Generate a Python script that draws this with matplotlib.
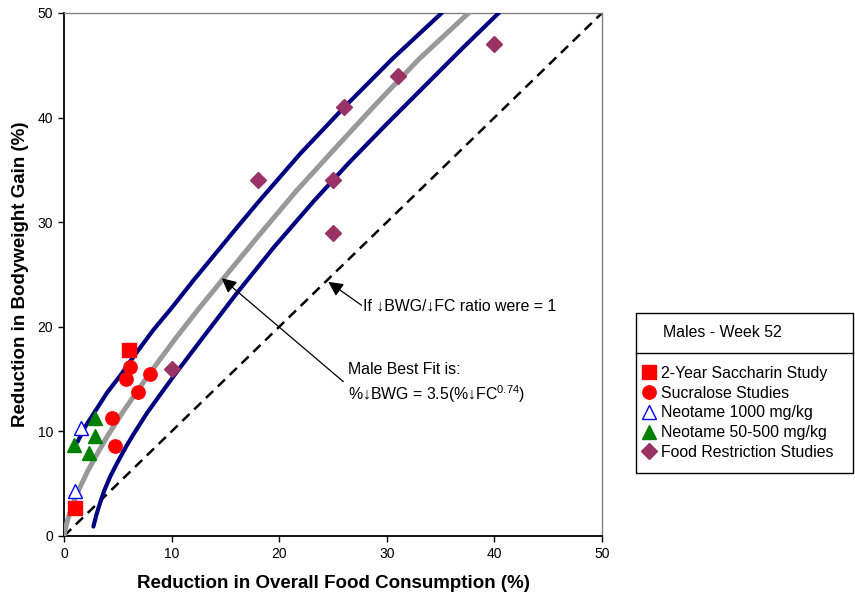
import matplotlib
matplotlib.use('Agg')
import matplotlib.pyplot as plt
from matplotlib.lines import Line2D
from matplotlib.patches import Rectangle

plt.rcParams['font.family'] = ['Liberation Sans', 'DejaVu Sans']
plt.rcParams['mathtext.fontset'] = 'custom'
plt.rcParams['mathtext.rm'] = 'Liberation Sans'

# data points (x = reduction in food consumption %, y = reduction in BW gain %)
saccharin_x = [6.0, 1.0]
saccharin_y = [17.8, 2.7]

sucralose_x = [6.1, 5.8, 8.0, 6.9, 4.5, 4.7]
sucralose_y = [16.2, 15.0, 15.5, 13.8, 11.3, 8.6]

neotame_hi_x = [1.6, 1.0]
neotame_hi_y = [10.3, 4.3]

neotame_lo_x = [2.9, 0.9, 2.9, 2.3]
neotame_lo_y = [11.3, 8.7, 9.6, 7.9]

food_x = [40, 31, 26, 18, 25, 25, 10]
food_y = [47, 44, 41, 34, 34, 29, 16]

# best fit curve and its bounds
fit_x = [0, 0.1, 0.3, 0.6, 1.0, 1.5, 2.2, 3.0, 4.0, 5.5, 6.9, 8.5, 10.3, 12.5, 14.8,
         18.0, 21.6, 25.5, 29.0, 33.0, 37.6]
fit_y = [0, 0.6, 1.4, 2.4, 3.5, 4.7, 6.2, 7.7, 9.5, 11.9, 14.0, 16.3, 18.8, 21.7, 24.6,
         28.6, 33.0, 37.4, 41.3, 45.6, 50.0]

upper_x = [1.25, 2.0, 3.0, 4.0, 5.2, 6.5, 8.3, 10.0, 12.0, 14.0, 16.0, 18.2, 22.0, 26.05,
           30.5, 35.1]
upper_y = [9.0, 10.5, 12.1, 13.7, 15.3, 17.2, 19.7, 21.8, 24.4, 26.9, 29.4, 32.1, 36.6, 41.0,
           45.6, 50.0]

lower_x = [2.73, 3.0, 3.3, 3.72, 4.3, 5.0, 5.8, 6.5, 7.74, 9.0, 10.2, 13.0, 16.05, 19.5, 23.2,
           26.5, 30.0, 33.5, 37.0, 40.4]
lower_y = [0.9, 2.0, 3.0, 4.3, 5.7, 7.1, 8.6, 9.8, 11.8, 13.6, 15.3, 19.1, 23.2, 27.6, 32.0,
           35.7, 39.4, 43.0, 46.6, 50.0]

fig = plt.figure(figsize=(8.55, 6.01), dpi=100)
ax = fig.add_axes([0.0749, 0.1082, 0.6292, 0.8702])

ax.plot([0, 50], [0, 50], color='black', lw=1.8, ls=(0, (4, 2.6)), zorder=2)
ax.plot(upper_x, upper_y, color='#000080', lw=3.0, solid_capstyle='round',
        solid_joinstyle='round', zorder=3)
ax.plot(lower_x, lower_y, color='#000080', lw=3.0, solid_capstyle='round',
        solid_joinstyle='round', zorder=3)
ax.plot(fit_x, fit_y, color='#999999', lw=3.6, solid_joinstyle='round', zorder=3)

ax.plot(saccharin_x, saccharin_y, ls='none', marker='s', ms=9.5, color='#FF0000', zorder=5)
ax.plot(sucralose_x, sucralose_y, ls='none', marker='o', ms=9.6, color='#FF0000', zorder=5)
ax.plot(neotame_hi_x, neotame_hi_y, ls='none', marker='^', ms=10, mfc='white', mec='#0000FF',
        mew=1, zorder=5)
ax.plot(neotame_lo_x, neotame_lo_y, ls='none', marker='^', ms=10, color='#008000', zorder=5)
ax.plot(food_x, food_y, ls='none', marker='D', ms=8, color='#993366', zorder=5)

ax.set_xlim(0, 50)
ax.set_ylim(0, 50)
ax.set_xticks(range(0, 51, 10))
ax.set_yticks(range(0, 51, 10))
ax.tick_params(labelsize=10, length=4.5, width=1, direction='out')
for s in ['top', 'right']:
    ax.spines[s].set_color('#808080')
    ax.spines[s].set_linewidth(1)
for s in ['left', 'bottom']:
    ax.spines[s].set_linewidth(1.3)

ax.set_xlabel('Reduction in Overall Food Consumption (%)', fontsize=13.5, fontweight='bold',
              labelpad=10)
ax.set_ylabel('Reduction in Bodyweight Gain (%)', fontsize=13.5, fontweight='bold',
              labelpad=6)

arrow = dict(arrowstyle='-|>', color='black', lw=0.9, mutation_scale=22, shrinkA=0, shrinkB=0)
ax.annotate('', xy=(24.56, 24.3), xytext=(27.66, 22.05), arrowprops=arrow)
ax.text(27.8, 22.0, 'If \u2193BWG/\u2193FC ratio were = 1', fontsize=11.4, va='center',
        ha='left')
ax.annotate('', xy=(14.66, 24.64), xytext=(25.96, 14.75), arrowprops=arrow)
ax.text(26.4, 15.87, 'Male Best Fit is:', fontsize=11.4, va='center', ha='left')
ax.text(26.4, 13.58, '%\u2193BWG = 3.5(%\u2193FC$^{\\mathregular{0.74}}$)', fontsize=11.4,
        va='center', ha='left')

# legend box with title row
W, H = 855, 601
fig.patches.append(Rectangle((636 / W, 1 - 473 / H), (853 - 636) / W, (473 - 313) / H,
                             transform=fig.transFigure, fill=False, ec='black', lw=1))
fig.lines.append(Line2D([636 / W, 853 / W], [1 - 353 / H, 1 - 353 / H],
                        transform=fig.transFigure, color='black', lw=1))
fig.text(663 / W, 1 - 333 / H, 'Males - Week 52', fontsize=11.4, va='center', ha='left')

handles = [
    Line2D([], [], ls='none', marker='s', ms=9.5, color='#FF0000'),
    Line2D([], [], ls='none', marker='o', ms=9.6, color='#FF0000'),
    Line2D([], [], ls='none', marker='^', ms=10, mfc='white', mec='#0000FF', mew=1),
    Line2D([], [], ls='none', marker='^', ms=10, color='#008000'),
    Line2D([], [], ls='none', marker='D', ms=8, color='#993366'),
]
labels = ['2-Year Saccharin Study', 'Sucralose Studies', 'Neotame 1000 mg/kg',
          'Neotame 50-500 mg/kg', 'Food Restriction Studies']
fig.legend(handles, labels, loc='upper left', bbox_to_anchor=(643 / W, 1 - 366 / H),
           frameon=False, fontsize=11.4, handlelength=0.7, handletextpad=0.45,
           labelspacing=0.3, borderpad=0, borderaxespad=0)

fig.savefig('out.png', dpi=100)
